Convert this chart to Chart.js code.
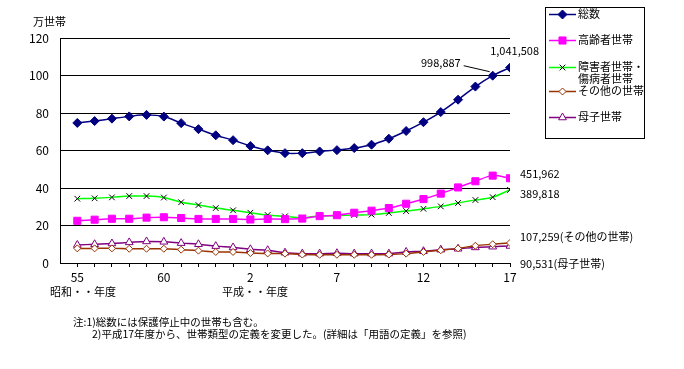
<!DOCTYPE html>
<html><head><meta charset="utf-8">
<script src="https://cdn.jsdelivr.net/npm/chart.js@4/dist/chart.umd.min.js"></script>
<style>html,body{margin:0;padding:0;background:#fff}#w{width:684px;height:369px;position:relative}</style>
</head><body><div id="w"><canvas id="c" width="684" height="369"></canvas></div>
<script>
const years = ['55','56','57','58','59','60','61','62','63','元','2','3','4','5','6','7','8','9','10','11','12','13','14','15','16','17'];
const tickLabels = {0:'55',5:'60',10:'2',15:'7',20:'12',25:'17'};
const totalHouseholds = [74.7,75.7,77.0,78.2,79.0,78.1,74.6,71.4,68.1,65.5,62.4,60.1,58.6,58.6,59.5,60.2,61.3,63.1,66.3,70.4,75.1,80.5,87.1,94.1,99.9,104.2];
const elderly = [22.5,23.1,23.6,23.6,24.2,24.4,24.0,23.5,23.5,23.5,23.2,23.5,23.4,23.7,25.0,25.5,26.8,27.9,29.3,31.6,34.1,37.0,40.3,43.6,46.6,45.2];
const disabled = [34.3,34.5,35.0,35.7,35.7,34.9,32.4,30.9,29.3,28.1,26.8,25.6,24.9,24.2,25.1,25.2,25.6,25.8,26.7,27.7,28.9,30.2,32.0,33.6,35.1,39.0];
const others = [7.8,7.8,7.8,7.6,7.6,7.6,7.1,6.6,5.9,5.9,5.3,5.1,5.0,4.5,4.4,4.4,4.4,4.4,4.5,5.0,5.9,6.8,7.8,9.2,10.0,10.7];
const singleMother = [9.6,10.0,10.4,11.0,11.5,11.3,10.6,10.0,9.0,8.3,7.3,6.8,5.5,5.0,5.0,5.2,5.0,5.0,5.0,5.9,6.3,7.1,7.6,8.3,8.7,9.1];
const seriesNames = ['総数','高齢者世帯','障害者世帯・\n傷病者世帯','その他の世帯','母子世帯'];
const endLabels = ['1,041,508','998,887','451,962','389,818','107,259(その他の世帯)','90,531(母子世帯)'];

const FONT = '"Noto Sans CJK JP", sans-serif';
const pts = arr => arr.map((v,i)=>({x:i,y:v}));

const datasets = [
 {label:seriesNames[0], data:pts(totalHouseholds), borderColor:'#000080', backgroundColor:'#000080', pointStyle:'rectRot', pointRadius:4.5, pointBorderWidth:1, borderWidth:1.5, tension:0.35},
 {label:seriesNames[1], data:pts(elderly), borderColor:'#FF00FF', backgroundColor:'#FF00FF', pointStyle:'rect', pointRadius:5, pointBorderWidth:1, borderWidth:1.5, tension:0.35},
 {label:seriesNames[2], data:pts(disabled), borderColor:'#00FF00', backgroundColor:'#000', pointBorderColor:'#000', pointStyle:'crossRot', pointRadius:4, pointBorderWidth:1, borderWidth:1.5, tension:0.35},
 {label:seriesNames[3], data:pts(others), borderColor:'#993300', backgroundColor:'#fff', pointBorderColor:'#993300', pointStyle:'rectRot', pointRadius:3.5, pointBorderWidth:1, borderWidth:1.5, tension:0.35},
 {label:seriesNames[4], data:pts(singleMother), borderColor:'#800080', backgroundColor:'#fff', pointBorderColor:'#800080', pointStyle:'triangle', pointRadius:4.5, pointBorderWidth:1, borderWidth:1.5, tension:0.35}
];
datasets.forEach((d,i)=>{d.order = i;});

const extras = {
 id:'extras',
 afterDraw(chart){
  const ctx = chart.ctx, ca = chart.chartArea, xs = chart.scales.x, ys = chart.scales.y;
  ctx.save();
  ctx.fillStyle = '#000';
  ctx.textBaseline = 'middle';
  ctx.textAlign = 'left';
  ctx.font = '11px ' + FONT;
  ctx.fillText('万世帯', 33, 22);
  ctx.fillText('昭和・・年度', 50, 292);
  ctx.fillText('平成・・年度', 222, 292);
  // value labels
  ctx.textAlign = 'right';
  ctx.fillText(endLabels[0], xs.getPixelForValue(25)+29, ys.getPixelForValue(totalHouseholds[25])-17);
  ctx.fillText(endLabels[1], xs.getPixelForValue(24)-32, ys.getPixelForValue(totalHouseholds[24])-13);
  ctx.strokeStyle = '#000'; ctx.lineWidth = 1;
  ctx.beginPath();
  ctx.moveTo(xs.getPixelForValue(24)-29, ys.getPixelForValue(totalHouseholds[24])-10);
  ctx.lineTo(xs.getPixelForValue(24)-3, ys.getPixelForValue(totalHouseholds[24])-4);
  ctx.stroke();
  ctx.textAlign = 'left';
  const lx = ca.right + 10;
  ctx.fillText(endLabels[2], lx, 174);
  ctx.fillText(endLabels[3], lx, 194);
  ctx.fillText(endLabels[4], lx, 237);
  ctx.fillText(endLabels[5], lx, 264);
  // notes
  ctx.font = '10.5px ' + FONT;
  ctx.fillText('注:1)総数には保護停止中の世帯も含む。', 73, 322);
  ctx.fillText('2)平成17年度から、世帯類型の定義を変更した。(詳細は「用語の定義」を参照)', 92, 334);
  // legend box
  ctx.strokeStyle = '#000'; ctx.lineWidth = 1;
  ctx.strokeRect(545.5, 7.5, 99, 131);
  const ly = [14, 40, 67, 91, 117];
  chart.data.datasets.forEach((d,i)=>{
    const y = ly[i];
    ctx.strokeStyle = d.borderColor; ctx.lineWidth = 1.5;
    ctx.beginPath(); ctx.moveTo(549, y+0.5); ctx.lineTo(576, y+0.5); ctx.stroke();
    ctx.fillStyle = d.backgroundColor;
    ctx.strokeStyle = d.pointBorderColor || d.borderColor;
    ctx.lineWidth = 1;
    Chart.helpers.drawPoint(ctx, {pointStyle:d.pointStyle, radius:d.pointRadius, borderWidth:1}, 562.5, y+0.5);
    ctx.fillStyle = '#000';
    ctx.font = '11px ' + FONT;
    ctx.textAlign = 'left'; ctx.textBaseline = 'middle';
    d.label.split('\n').forEach((t,k)=>ctx.fillText(t, 578, y + k*12));
  });
  ctx.restore();
 }
};

new Chart(document.getElementById('c'), {
 type:'line',
 data:{datasets},
 options:{
  responsive:false, animation:false,
  layout:{padding:{left:0, right:174, top:38, bottom:0}},
  plugins:{legend:{display:false}, tooltip:{enabled:false}},
  scales:{
   x:{type:'linear', min:-1, max:25,
      afterBuildTicks(s){ s.ticks = years.map((_,i)=>({value:i})); },
      afterFit(s){ s.height = 106; },
      ticks:{autoSkip:false, maxRotation:0, padding:3, color:'#000', font:{family:FONT, size:12},
             callback:(v)=> tickLabels[v] !== undefined ? tickLabels[v] : ''},
      grid:{drawOnChartArea:false, drawTicks:true, tickLength:4, color:'#000'},
      border:{display:true, color:'#000', width:1}},
   y:{min:0, max:120,
      afterFit(s){ s.width = 60; },
      ticks:{stepSize:20, padding:11, color:'#000', font:{family:FONT, size:12}},
      grid:{drawTicks:false, color:'#000', lineWidth:1},
      border:{display:true, color:'#000', width:1}}
  }
 },
 plugins:[extras]
});
</script></body></html>
